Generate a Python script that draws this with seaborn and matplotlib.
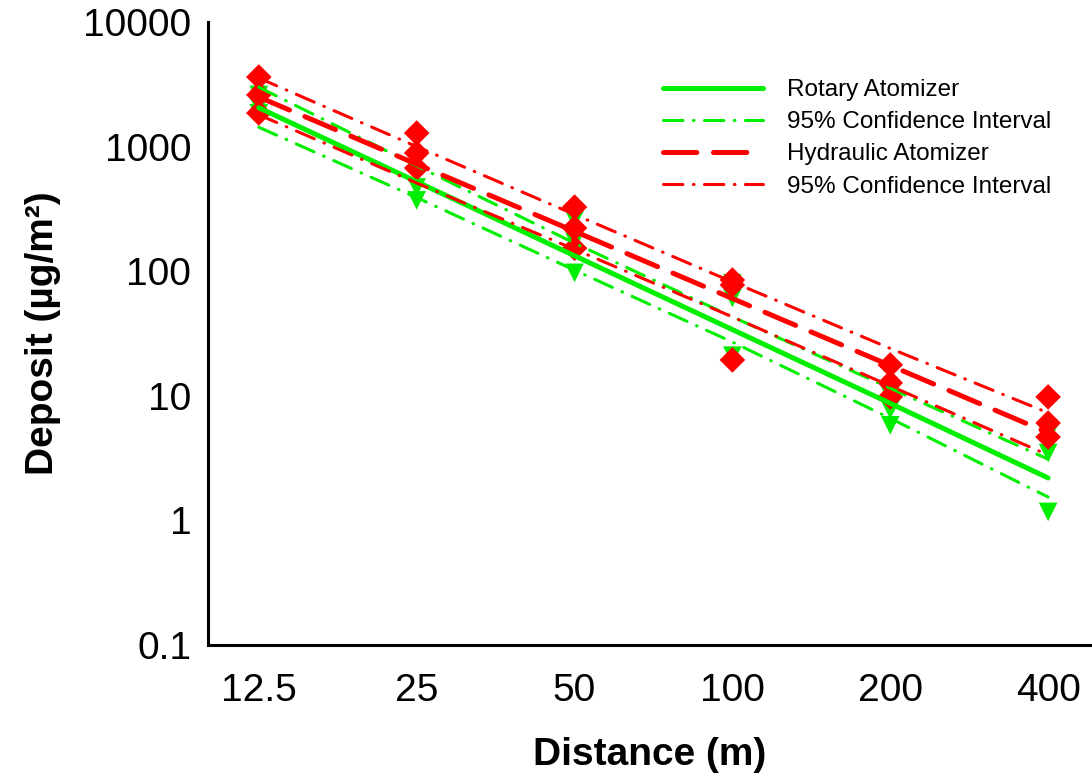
import matplotlib
matplotlib.use("Agg")
import matplotlib.pyplot as plt
import matplotlib.ticker as mticker
from matplotlib.lines import Line2D
import pandas as pd
import seaborn as sns

# values
distances = [12.5, 25, 50, 100, 200, 400]
tick_labels = ["12.5", "25", "50", "100", "200", "400"]
y_ticks = [0.1, 1, 10, 100, 1000, 10000]
y_tick_labels = ["0.1", "1", "10", "100", "1000", "10000"]

sample_distance = [12.5] * 3 + [25] * 3 + [50] * 3 + [100] * 3 + [200] * 3 + [400] * 3
rotary_deposit = [1850, 2100, 2600, 370, 470, 780, 97, 172, 257,
                  21, 61, 80, 5.8, 7.7, 10, 1.17, 3.47, 4.8]
hydraulic_deposit = [1860, 2600, 3620, 673, 889, 1285, 153, 222, 327,
                     19.4, 77.5, 85, 9.8, 12.7, 17.7, 4.67, 6.05, 9.8]

rotary_fit = [2050, 523, 133, 34, 8.7, 2.19]
rotary_upper = [3000, 700, 168, 43, 11.5, 3.1]
rotary_lower = [1430, 390, 102, 27, 6.6, 1.54]
hydraulic_fit = [2500, 723, 209, 60.4, 17.5, 5.05]
hydraulic_upper = [3550, 1000, 285, 82, 24, 7.3]
hydraulic_lower = [1800, 510, 150, 43, 12, 3.35]

GREEN = "#00ee00"
RED = "#ff0000"

sns.set_style("white")
plt.rcParams["font.family"] = ["Liberation Sans", "DejaVu Sans"]
plt.rcParams["lines.scale_dashes"] = False
plt.rcParams["text.color"] = "black"
plt.rcParams["axes.labelcolor"] = "black"

solid = dict(lw=3.6, ls="-", solid_capstyle="round")
dashed = dict(lw=3.6, ls=(0, (24, 12)), dash_capstyle="round")
dashdot = dict(lw=2.2, ls=(0, (14, 7.5, 0.5, 7.5)), dash_capstyle="round")

fig = plt.figure(figsize=(10.92, 7.76), dpi=100)
ax = fig.add_axes([208 / 1092, 131 / 776, 1 - 208 / 1092, 623 / 776])

points = pd.DataFrame({"distance": sample_distance,
                       "rotary": rotary_deposit,
                       "hydraulic": hydraulic_deposit})
sns.scatterplot(data=points, x="distance", y="rotary", marker="v", s=180,
                color=GREEN, edgecolor="none", ax=ax, zorder=2)
sns.scatterplot(data=points, x="distance", y="hydraulic", marker="D", s=170,
                color=RED, edgecolor="none", ax=ax, zorder=3)

for values, color, style in [
    (rotary_upper, GREEN, dashdot),
    (rotary_lower, GREEN, dashdot),
    (rotary_fit, GREEN, solid),
    (hydraulic_upper, RED, dashdot),
    (hydraulic_lower, RED, dashdot),
    (hydraulic_fit, RED, dashed),
]:
    sns.lineplot(x=distances, y=values, color=color, ax=ax, zorder=4, **style)

ax.set_xscale("log", base=2)
ax.set_yscale("log")
ax.set_xlim(10, 485)
ax.set_ylim(0.1, 10000)
ax.xaxis.set_major_locator(mticker.FixedLocator(distances))
ax.xaxis.set_major_formatter(mticker.FixedFormatter(tick_labels))
ax.xaxis.set_minor_locator(mticker.NullLocator())
ax.yaxis.set_major_locator(mticker.FixedLocator(y_ticks))
ax.yaxis.set_major_formatter(mticker.FixedFormatter(y_tick_labels))
ax.yaxis.set_minor_locator(mticker.NullLocator())

sns.despine(ax=ax)
for side in ["left", "bottom"]:
    ax.spines[side].set_linewidth(2.2)
    ax.spines[side].set_color("black")
ax.tick_params(axis="x", direction="in", length=7, width=2, labelsize=28, pad=20, colors="black")
ax.tick_params(axis="y", direction="out", length=7, width=2, labelsize=28, pad=5, colors="black")

ax.set_xlabel("Distance (m)", fontsize=28, fontweight="bold", labelpad=20)
ax.set_ylabel("Deposit (µg/m²)", fontsize=28, fontweight="bold", labelpad=16)

handles = [
    Line2D([], [], color=GREEN, **solid),
    Line2D([], [], color=GREEN, **dashdot),
    Line2D([], [], color=RED, **dashed),
    Line2D([], [], color=RED, **dashdot),
]
labels = ["Rotary Atomizer", "95% Confidence Interval",
          "Hydraulic Atomizer", "95% Confidence Interval"]
fig.legend(handles, labels, loc="upper left", bbox_to_anchor=(663 / 1092, 1 - 79 / 776),
           frameon=False, fontsize=17.5, handlelength=4.1, handletextpad=1.0,
           labelspacing=0.42, borderpad=0, borderaxespad=0)

fig.savefig("out.png", dpi=100)
